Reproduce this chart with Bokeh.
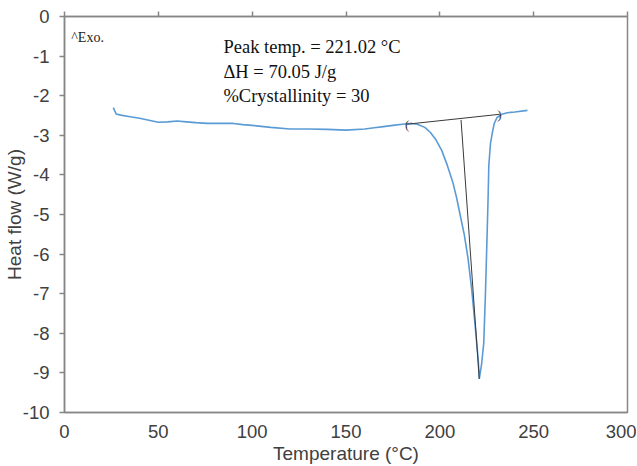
from bokeh.plotting import figure
from bokeh.models import LinearAxis, FixedTicker
from bokeh.core.properties import value
from bokeh.embed import file_html
from bokeh.resources import INLINE

# DSC curve (Temperature °C, Heat flow W/g)
temp = [26, 27.5, 30, 35, 40, 45, 50, 55, 60, 65, 70, 76, 85, 90, 95, 100, 110, 120,
        130, 140, 150, 160, 165, 170, 175, 180, 185, 188, 192, 195, 198, 201, 204, 207,
        209, 211, 213, 215, 217, 219, 220.5, 221.02, 222.2, 223.4, 224.3, 225.2, 225.7,
        226.1, 227, 228, 229, 230.5, 233, 236, 240, 246.7]
heat = [-2.30, -2.46, -2.49, -2.53, -2.57, -2.62, -2.67, -2.66, -2.64, -2.66, -2.68, -2.70,
        -2.70, -2.70, -2.73, -2.75, -2.80, -2.84, -2.84, -2.85, -2.87, -2.84, -2.81, -2.78,
        -2.75, -2.72, -2.70, -2.72, -2.80, -2.93, -3.12, -3.38, -3.76, -4.20, -4.59, -5.05,
        -5.50, -6.10, -6.90, -7.90, -8.70, -9.15, -8.80, -8.25, -7.00, -5.50, -4.60, -3.76,
        -3.20, -2.93, -2.70, -2.55, -2.47, -2.43, -2.41, -2.37]

# Baseline and peak construction
base_x = [182.6, 231.8]
base_y = [-2.72, -2.47]
peak_line_x = [211.3, 221.02]
peak_line_y = [-2.61, -9.15]
bracket_text = ["(", ")"]

annot_lines = ["Peak temp. = 221.02 \u00b0C", "\u0394H = 70.05 J/g", "%Crystallinity  = 30"]
annot_y = [-0.77, -1.40, -2.02]
exo_label = ["^Exo."]

x_ticks = [0, 50, 100, 150, 200, 250, 300]
y_ticks = [0, -1, -2, -3, -4, -5, -6, -7, -8, -9, -10]

AX = "#868686"
TXT = "#404040"

p = figure(width=636, height=466, x_range=(0, 300), y_range=(-10, 0),
           output_backend="svg", toolbar_location=None,
           min_border_left=64, min_border_right=9, min_border_top=16, min_border_bottom=50,
           x_axis_location=None, y_axis_location=None)
p.background_fill_color = "white"
p.border_fill_color = "white"
p.outline_line_color = AX
p.outline_line_width = 1.5
p.xgrid.grid_line_color = None
p.ygrid.grid_line_color = None

# bottom axis (labels, no ticks)
xb = LinearAxis(ticker=FixedTicker(ticks=x_ticks), axis_label="Temperature (\u00b0C)")
xb.major_tick_out = 0
xb.major_tick_in = 0
xb.minor_tick_out = 0
xb.minor_tick_in = 0
xb.axis_line_color = AX
xb.axis_line_width = 1.5
xb.major_label_text_font = "Liberation Sans"
xb.major_label_text_font_size = "18.5px"
xb.major_label_text_color = TXT
xb.major_label_standoff = 12
xb.axis_label_text_font = "Liberation Sans"
xb.axis_label_text_font_size = "19px"
xb.axis_label_text_font_style = "normal"
xb.axis_label_text_color = TXT
xb.axis_label_standoff = 2
p.add_layout(xb, "below")

# top axis (ticks only, no labels)
xt = LinearAxis(ticker=FixedTicker(ticks=x_ticks))
xt.major_label_overrides = {t: "" for t in x_ticks}
xt.major_tick_out = 5
xt.major_tick_in = 0
xt.minor_tick_out = 0
xt.minor_tick_in = 0
xt.major_tick_line_color = AX
xt.major_tick_line_width = 1.5
xt.axis_line_color = AX
xt.axis_line_width = 1.5
xt.major_label_text_font_size = "1px"
xt.major_label_standoff = 0
p.add_layout(xt, "above")

# left axis
yl = LinearAxis(ticker=FixedTicker(ticks=y_ticks), axis_label="Heat flow (W/g)")
yl.major_label_overrides = {t: str(t) for t in y_ticks}
yl.major_tick_out = 5
yl.major_tick_in = 0
yl.minor_tick_out = 0
yl.minor_tick_in = 0
yl.major_tick_line_color = AX
yl.major_tick_line_width = 1.5
yl.axis_line_color = AX
yl.axis_line_width = 1.5
yl.major_label_text_font = "Liberation Sans"
yl.major_label_text_font_size = "18.5px"
yl.major_label_text_color = TXT
yl.major_label_standoff = 10
yl.axis_label_text_font = "Liberation Sans"
yl.axis_label_text_font_size = "19px"
yl.axis_label_text_font_style = "normal"
yl.axis_label_text_color = TXT
yl.axis_label_standoff = -5
p.add_layout(yl, "left")

p.line(temp, heat, line_color="#5b9bd5", line_width=1.6)
p.line(base_x, base_y, line_color="#3a3a3a", line_width=1)
p.line(peak_line_x, peak_line_y, line_color="#3a3a3a", line_width=1)

p.text(x=base_x, y=base_y, text=bracket_text, text_font=value("Liberation Serif"),
       text_font_size="13px", text_align="center", text_baseline="middle", text_color="#3a3a3a")

p.text(x=[84.7] * len(annot_lines), y=annot_y, text=annot_lines,
       text_font=value("Liberation Serif"), text_font_size="18.5px",
       text_align="left", text_baseline="middle", text_color="#111111")
p.text(x=[3.6], y=[-0.54], text=exo_label, text_font=value("Liberation Serif"),
       text_font_size="14px", text_align="left", text_baseline="middle", text_color="#222222")

open("out.html", "w").write(file_html(p, INLINE))
